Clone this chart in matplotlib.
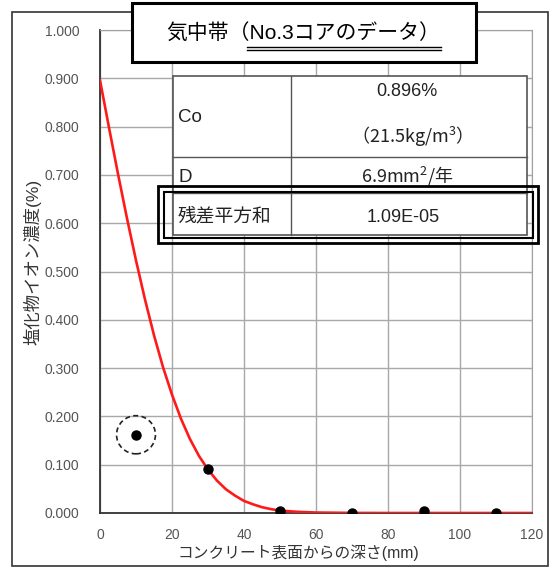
import matplotlib
matplotlib.use("Agg")
import matplotlib.pyplot as plt
from matplotlib.patches import Rectangle, Ellipse
from matplotlib.lines import Line2D

plt.rcParams['font.family'] = ['Liberation Sans', 'Noto Sans CJK JP', 'DejaVu Sans']

# --- data ---
depth_measured = [10, 30, 50, 70, 90, 110]            # mm
chloride_measured = [0.162, 0.091, 0.004, 0.0, 0.005, 0.0]  # %
outlier_depth = 10
outlier_value = 0.162

# fitted curve
depth_curve = [0, 2.5, 5, 7.5, 10, 12.5, 15, 17.5, 20, 22.5, 25, 27.5, 30,
               32.5, 35, 37.5, 40, 42.5, 45, 47.5, 50, 55, 60, 70, 80, 120]
chloride_curve = [0.896, 0.798, 0.702, 0.610, 0.523, 0.442, 0.368, 0.302, 0.245,
                  0.195, 0.153, 0.118, 0.090, 0.067, 0.049, 0.036, 0.025, 0.018,
                  0.012, 0.008, 0.005, 0.0024, 0.0010, 0.0002, 0.0, 0.0]

x_ticks = [0, 20, 40, 60, 80, 100, 120]
y_ticks = [0.0, 0.1, 0.2, 0.3, 0.4, 0.5, 0.6, 0.7, 0.8, 0.9, 1.0]

title_main = "気中帯（"
title_sub = "No.3コアのデータ）"
table_labels = ["Co", "D", "残差平方和"]
co_value = "0.896%"
co_value2 = "（21.5kg/m$^{\\mathregular{3}}$）"
d_value = "6.9mm$^{\\mathregular{2}}$/年"
rss_value = "1.09E-05"

W, H = 552, 569


def px(x, y):
    # pixel position (from top-left) to figure fraction
    return x / W, 1 - y / H


fig = plt.figure(figsize=(W / 100, H / 100), dpi=100)

# outer frame
fig.add_artist(Rectangle(px(12, 566), (548 - 12) / W, (566 - 12) / H,
                         transform=fig.transFigure, fill=False,
                         edgecolor='#333333', linewidth=1.2))

x0, y0 = px(100, 513)
x1, y1 = px(532, 30)
ax = fig.add_axes([x0, y0, x1 - x0, y1 - y0])

ax.plot(depth_curve, chloride_curve, color='#ff1a1a', linewidth=1.9, zorder=3)
ax.plot(depth_measured, chloride_measured, 'o', color='black',
        markersize=6.5, zorder=4)
ax.add_patch(Ellipse((outlier_depth, outlier_value), 10.8, 0.079,
                     fill=False, edgecolor='#222222', linestyle=(0, (3, 2)),
                     linewidth=1.2, zorder=4))

ax.set_xlim(0, 120)
ax.set_ylim(0, 1.0)
ax.set_xticks(x_ticks)
ax.set_yticks(y_ticks)
ax.set_yticklabels([f"{v:.3f}" for v in y_ticks])
ax.tick_params(length=0, labelsize=10, colors='#555555')
ax.tick_params(axis='y', pad=15)
ax.tick_params(axis='x', pad=11)
ax.grid(True, color='#a8a8a8', linewidth=1.0)
ax.set_axisbelow(True)
for side in ['top', 'right']:
    ax.spines[side].set_color('#a0a0a0')
for side in ['left', 'bottom']:
    ax.spines[side].set_color('#333333')
    ax.spines[side].set_linewidth(1.3)

fig.text(*px(32, 262), "塩化物イオン濃度(%)", rotation=90, ha='center',
         va='center', fontsize=12.5, color='#333333')
fig.text(*px(298, 553), "コンクリート表面からの深さ(mm)", ha='center',
         va='center', fontsize=11.3, color='#333333')

# title box
fig.add_artist(Rectangle(px(132, 62), (476 - 132) / W, (62 - 3) / H,
                         transform=fig.transFigure, facecolor='white',
                         edgecolor='black', linewidth=2.2, zorder=5))
fig.text(*px(303, 33), title_main + title_sub, ha='center', va='center',
         fontsize=15, color='black', zorder=6)
for yy in (47, 50):
    fig.add_artist(Line2D([247 / W, 441 / W], [1 - yy / H, 1 - yy / H],
                          transform=fig.transFigure, color='black',
                          linewidth=1.0, zorder=6))

# parameter table
tl, tr, tt, tb = 173, 527, 76, 235
fig.add_artist(Rectangle(px(tl, tb), (tr - tl) / W, (tb - tt) / H,
                         transform=fig.transFigure, facecolor='white',
                         edgecolor='#555555', linewidth=1.2, zorder=5))
for yy in (157, 193):
    fig.add_artist(Line2D([tl / W, tr / W], [1 - yy / H, 1 - yy / H],
                          transform=fig.transFigure, color='#555555',
                          linewidth=1.0, zorder=6))
fig.add_artist(Line2D([291 / W, 291 / W], [1 - tt / H, 1 - tb / H],
                      transform=fig.transFigure, color='#555555',
                      linewidth=1.0, zorder=6))

fig.text(*px(178, 117), table_labels[0], ha='left', va='center',
         fontsize=13.5, color='#222222', zorder=7)
fig.text(*px(178, 178), table_labels[1], ha='left', va='center',
         fontsize=13.5, color='#222222', zorder=7)
fig.text(*px(178, 217), table_labels[2], ha='left', va='center',
         fontsize=13.5, color='#222222', zorder=7)
fig.text(*px(407, 92), co_value, ha='center', va='center',
         fontsize=13, color='#222222', zorder=7)
fig.text(*px(407, 137), co_value2, ha='center', va='center',
         fontsize=13, color='#222222', zorder=7, family='Noto Sans CJK JP')
fig.text(*px(407, 176), d_value, ha='center', va='center',
         fontsize=13, color='#222222', zorder=7, family='Noto Sans CJK JP')
fig.text(*px(403, 218), rss_value, ha='center', va='center',
         fontsize=13, color='#222222', zorder=7)

# double box around the residual row
fig.add_artist(Rectangle(px(158, 243), (538 - 158) / W, (243 - 186) / H,
                         transform=fig.transFigure, fill=False,
                         edgecolor='black', linewidth=2.0, zorder=8))
fig.add_artist(Rectangle(px(164, 238), (533 - 164) / W, (238 - 192) / H,
                         transform=fig.transFigure, fill=False,
                         edgecolor='black', linewidth=1.5, zorder=8))

fig.savefig("out.png", dpi=100)
